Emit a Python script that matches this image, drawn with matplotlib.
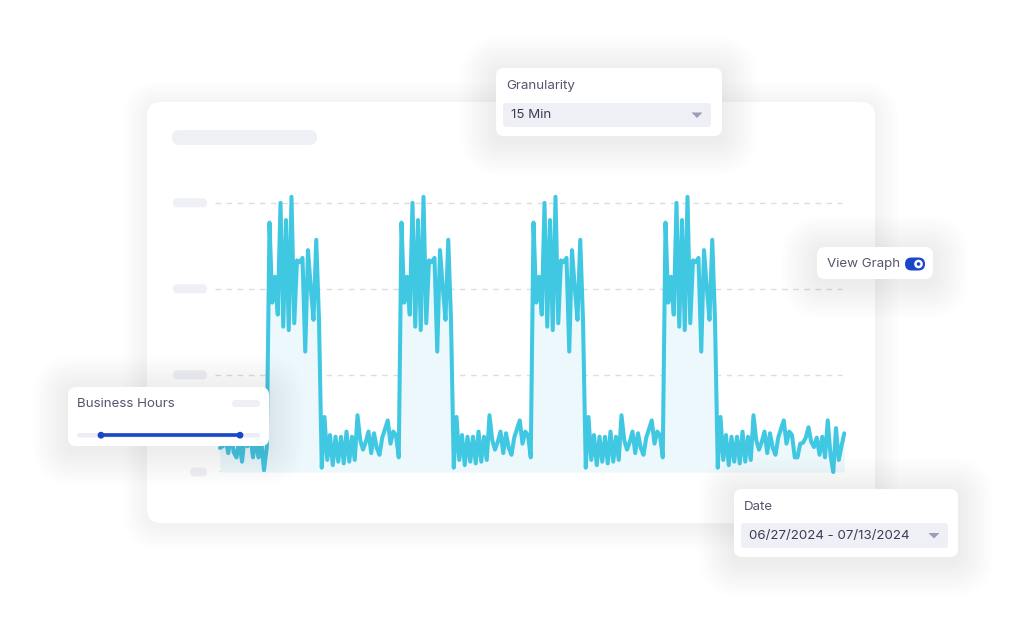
import numpy as np
import matplotlib.pyplot as plt
from matplotlib.patches import FancyBboxPatch, Circle, Polygon

##############################
# DATA
##############################

# traffic sampled every half hour, one value per sample
step_hours = 0.5

# night before the first business day (00:00 - 08:30)
lead_values = [28, 30, 40, 22, 45, 23, 17, 38, 12, 42, 30, 45, 17, 40, 17, 35, 2, 29]

# one day starting at 09:00 (busy block, then the quiet evening/night)
day_values = [290, 197, 227, 183, 313, 169, 293, 165, 320, 173, 246, 244,
              249, 140, 258, 215, 177, 270, 177, 5, 64, 14, 43, 8,
              41, 12, 41, 10, 47, 12, 41, 14, 66, 37, 26, 35,
              47, 22, 45, 28, 20, 40, 50, 60, 33, 47, 43, 17]

# last evening after the fourth business block
tail_values = [17, 33, 34, 40, 52, 35, 29, 40, 20, 41, 17, 60, 20, 0, 51, 14, 30, 45]

n_days = 4
grid_values = [113, 213, 313]

granularity = "15 Min"
date_range = "06/27/2024 - 07/13/2024"

##############################
# STYLE
##############################

W, H = 1027, 625
fontFamily = 'Inter'
fontSize = 9.6
lineColor = '#40c8e3'
fillColor = '#ecf8fc'
pillColor = '#eef0f6'
labelColor = '#55556e'
valueColor = '#3c3c54'
blue = '#1a46c8'

plt.rcParams['font.family'] = fontFamily
plt.rcParams['font.size'] = fontSize


def box(ax, x, y, w, h, r, fc, z=1):
    ax.add_patch(FancyBboxPatch((x, y), w, h,
                                boxstyle="round,pad=0,rounding_size=%g" % r,
                                fc=fc, ec='none', lw=0, zorder=z))


def shadow(ax, x, y, w, h, r, spread=36, a=0.0022, dy=4, z=0.5):
    for i in range(spread, 0, -2):
        box(ax, x - i, y - i + dy, w + 2 * i, h + 2 * i, r + i,
            fc=(0.25, 0.25, 0.4, a), z=z)


def dropdown(ax, x, y, w, h, text):
    box(ax, x, y, w, h, 3, pillColor, z=3)
    ax.text(x + 8, y + h / 2 + 0.5, text, color=valueColor, ha='left',
            va='center', fontsize=fontSize, zorder=4)
    cx, cy = x + w - 14, y + h / 2
    ax.add_patch(Polygon([[cx - 5.5, cy - 2.5], [cx + 5.5, cy - 2.5], [cx, cy + 3]],
                         closed=True, fc='#9c9db8', ec='none', zorder=4))


##############################
# FIGURE
##############################

fig = plt.figure(figsize=(W / 100, H / 100), dpi=100)
fig.patch.set_facecolor('white')

# background layer in pixel coordinates
bg = fig.add_axes([0, 0, 1, 1], zorder=0)
bg.set_xlim(0, W)
bg.set_ylim(H, 0)
bg.axis('off')

shadow(bg, 147, 102, 728, 421, 14, spread=24, a=0.002, dy=3)
box(bg, 147, 102, 728, 421, 14, 'white', z=2)
box(bg, 172, 130, 145, 15, 7.5, pillColor, z=3)

# placeholder tick labels
for yv in grid_values:
    ypx = 472 - yv * 0.86
    box(bg, 173, ypx - 4.5, 34, 9, 4.5, pillColor, z=3)
box(bg, 190, 467.5, 17, 9, 4.5, pillColor, z=3)

# chart layer
L, R = 215, 846
bottom_px, top_val = 472, 330
top_px = bottom_px - top_val * 0.86
ax = fig.add_axes([L / W, (H - bottom_px) / H, (R - L) / W, (bottom_px - top_px) / H], zorder=1)
ax.patch.set_alpha(0)
ax.axis('off')

values = lead_values + day_values * n_days + tail_values
hours = np.arange(len(values)) * step_hours

ax.set_xlim((L - 220) / 5.5, (R - 220) / 5.5)
ax.set_ylim(0, top_val)

gx = (842 - L) / (R - L)
for yv in grid_values:
    ax.axhline(yv, xmin=0, xmax=gx, color='#dcdde3', lw=1, ls=(0, (4, 4)), zorder=1)
ax.axhline(0, xmin=0.008, xmax=gx, color='#e0e3ea', lw=1.2, zorder=1)

ax.fill_between(hours, values, 0, color=fillColor, lw=0, zorder=2)
ax.plot(hours, values, color=lineColor, lw=2.9, solid_joinstyle='round',
        solid_capstyle='round', clip_on=False, zorder=3)

# floating widgets layer
top = fig.add_axes([0, 0, 1, 1], zorder=2)
top.set_xlim(0, W)
top.set_ylim(H, 0)
top.axis('off')
top.patch.set_alpha(0)

# Granularity
shadow(top, 496, 68, 226, 68, 8)
box(top, 496, 68, 226, 68, 8, 'white', z=2)
top.text(506, 86, "Granularity", color=labelColor, ha='left', va='center', zorder=4)
dropdown(top, 503, 103, 208, 24, granularity)

# View Graph toggle
shadow(top, 817, 247, 116, 32, 8)
box(top, 817, 247, 116, 32, 8, 'white', z=2)
top.text(827, 264.5, "View Graph", color=labelColor, ha='left', va='center', zorder=4)
box(top, 905, 257.5, 20, 13, 6.5, blue, z=3)
top.add_patch(Circle((918.5, 264), 4.3, fc='white', ec='none', zorder=4))
top.add_patch(Circle((918.5, 264), 1.8, fc=blue, ec='none', zorder=5))

# Business Hours slider
shadow(top, 68, 387, 201, 59, 8)
box(top, 68, 387, 201, 59, 8, 'white', z=2)
top.text(77, 404, "Business Hours", color=labelColor, ha='left', va='center', zorder=4)
box(top, 232, 400, 28, 7, 3.5, pillColor, z=3)
box(top, 77, 433, 183, 4.5, 2.2, '#eceef4', z=3)
top.plot([101, 240], [435.2, 435.2], color=blue, lw=2.6, solid_capstyle='butt', zorder=4)
for hx in (101, 240):
    top.add_patch(Circle((hx, 435.2), 3.4, fc=blue, ec='none', zorder=5))

# Date
shadow(top, 734, 489, 224, 68, 8)
box(top, 734, 489, 224, 68, 8, 'white', z=2)
top.text(744, 506.5, "Date", color=labelColor, ha='left', va='center', zorder=4)
dropdown(top, 741, 523, 207, 25, date_range)

plt.savefig("out.png", dpi=100, facecolor='white')
